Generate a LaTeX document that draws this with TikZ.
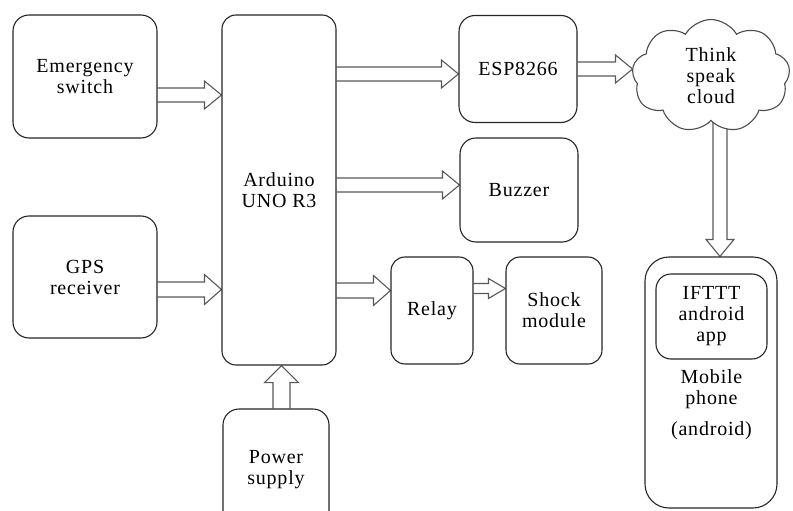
\documentclass[tikz,border=0pt]{standalone}
\usepackage{fontspec}
\setmainfont{Liberation Serif}[LetterSpace=4]
\usepackage{tikz}
\usetikzlibrary{calc,positioning,shapes.symbols,backgrounds}

% hollow block arrow from #2 to #3, shaft half width #1
\newcommand{\fatarrow}[3][7]{%
  \coordinate (fa-s) at (#2);
  \coordinate (fa-e) at (#3);
  \coordinate (fa-h) at ($(fa-e)!17pt!(fa-s)$);
  \draw[fat] ($(fa-s)!#1pt!90:(fa-e)$) -- ($(fa-h)!#1pt!-90:(fa-s)$)
    -- ($(fa-h)!2*#1pt!-90:(fa-s)$) -- (fa-e)
    -- ($(fa-h)!2*#1pt!90:(fa-s)$) -- ($(fa-h)!#1pt!90:(fa-s)$)
    -- ($(fa-s)!#1pt!-90:(fa-e)$);}

\begin{document}
\begin{tikzpicture}[
  x=1pt, y=-1pt,
  font=\fontsize{20pt}{21pt}\selectfont,
  box/.style={draw=black!85, line width=1.1pt, rounded corners=16pt,
              fill=white, align=center},
  cloudbox/.style={cloud, cloud puffs=9, cloud puff arc=120,
              cloud ignores aspect, draw=black!70, line width=1.1pt,
              fill=white, align=center, inner sep=0pt},
  fat/.style={draw=black!65, fill=white, line width=1.1pt, line join=miter}]

\useasboundingbox (0,0) rectangle (793,511);

\node[box, minimum width=144pt, minimum height=123pt] (emer) at (85,76.5) {Emergency\\switch};
\node[box, minimum width=144pt, minimum height=122pt] (gps) at (85,277) {GPS\\receiver};
\node[box, minimum width=114pt, minimum height=350pt, rounded corners=14pt] (ard) at (279,190) {Arduino\\UNO R3};
\node[box, minimum width=106pt, minimum height=122pt] (power) at (276,470) {Power\\supply};

\node[box, minimum width=118pt, minimum height=107pt] (esp) at (518,69) {ESP8266};
\node[box, minimum width=118pt, minimum height=104pt] (buz) at (519,190) {Buzzer};
\node[box, minimum width=82pt, minimum height=107pt, rounded corners=14pt] (relay) at (432,310.5) {Relay};
\node[box, minimum width=96pt, minimum height=107pt, rounded corners=14pt] (shock) at (554,310.5) {Shock\\module};

\node[cloudbox, minimum width=158pt, minimum height=113pt] (cloud) at (711,76) {Think\\speak\\cloud};

\node[box, minimum width=132pt, minimum height=251pt, rounded corners=24pt] (mob) at (711,382.5) {};
\node[box, minimum width=111pt, minimum height=85pt, rounded corners=15pt] (ifttt) at (711.5,316.5) {IFTTT\\android\\app};
\node[below=7pt of ifttt, align=center] (mobtxt) {Mobile\\phone\\[10pt](android)};

\begin{scope}[on background layer]
\fatarrow{$(emer.east)+(0,18.5)$}{$(emer.east -| ard.west)+(0,18.5)$}
\fatarrow[7.5]{$(gps.east)+(0,12.5)$}{$(gps.east -| ard.west)+(0,12.5)$}
\fatarrow{$(esp.west -| ard.east)+(0,5)$}{$(esp.west)+(0,5)$}
\fatarrow{$(buz.west -| ard.east)+(0,-5)$}{$(buz.west)+(0,-5)$}
\fatarrow[7.5]{$(relay.west -| ard.east)+(0,-20)$}{$(relay.west)+(0,-20)$}
\fatarrow[5]{$(relay.east)+(0,-22)$}{$(shock.west)+(0,-22)$}
\fatarrow{esp.east}{esp.east -| cloud.west}
\fatarrow{$(cloud.south)+(9,0)$}{$(mob.north)+(9,0)$}
\fatarrow[8.5]{$(power.north)+(5.5,0)$}{$(ard.south)+(2.5,0)$}
\end{scope}
\end{tikzpicture}
\end{document}
